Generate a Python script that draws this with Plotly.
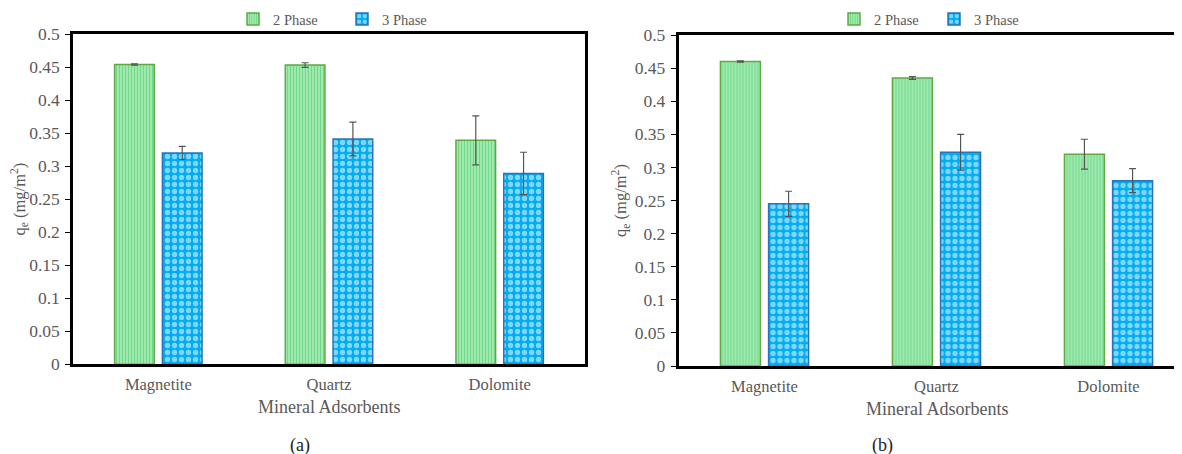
import plotly.graph_objects as go

categories = ["Magnetite", "Quartz", "Dolomite"]
series_names = ["2 Phase", "3 Phase"]

a_two_phase = [0.454, 0.453, 0.339]
a_two_phase_err = [0.001, 0.0035, 0.037]
a_three_phase = [0.320, 0.341, 0.289]
a_three_phase_err = [0.010, 0.0255, 0.032]

b_two_phase = [0.460, 0.435, 0.320]
b_two_phase_err = [0.001, 0.002, 0.0225]
b_three_phase = [0.245, 0.323, 0.280]
b_three_phase_err = [0.019, 0.027, 0.018]

y_tick_step = 0.05
y_max = 0.5

# the page body has an 8px margin, so the figure is drawn 8px in from the window edge
OFF = 8
W, H = 1182 - OFF, 454 - OFF
TXT = "#595959"
FONT = "Liberation Serif, Times New Roman, serif"

green_style = dict(color="#b4efc0", line=dict(color="#62a845", width=1.5),
                   pattern=dict(shape="|", fgcolor="#2ec451", size=3, solidity=0.55))
blue_style = dict(color="#00acf2", line=dict(color="#2a72b8", width=1.5),
                  pattern=dict(shape=".", fgcolor="#ffffff", size=7, solidity=0.45))
err_style = dict(type="data", color="#555555", thickness=1.2, width=3.5)

fig = go.Figure()

def add_pair(two, two_err, three, three_err, xa, ya, legend):
    fig.add_trace(go.Bar(x=categories, y=two, name=series_names[0], marker=green_style,
                         error_y=dict(array=two_err, **err_style),
                         xaxis=xa, yaxis=ya, legend=legend))
    fig.add_trace(go.Bar(x=categories, y=three, name=series_names[1], marker=blue_style,
                         error_y=dict(array=three_err, **err_style),
                         xaxis=xa, yaxis=ya, legend=legend))

add_pair(a_two_phase, a_two_phase_err, a_three_phase, a_three_phase_err, "x", "y", "legend")
add_pair(b_two_phase, b_two_phase_err, b_three_phase, b_three_phase_err, "x2", "y2", "legend2")

def px_x(p):
    return (p - OFF) / W

def px_y(p):
    return 1 - (p - OFF) / H

ytickfont = dict(family=FONT, size=17.5, color=TXT)
xtickfont = dict(family=FONT, size=16.5, color=TXT)
ytitle = dict(text="q<sub>e</sub> (mg/m<sup>2</sup>)", font=dict(family=FONT, size=16.5, color=TXT), standoff=4)

xcommon = dict(type="category", showline=True, linecolor="black", linewidth=2.5, ticks="",
               tickfont=xtickfont, showgrid=False, ticklabelstandoff=3)
ycommon = dict(range=[0, y_max], dtick=y_tick_step, tick0=0, showline=True, linecolor="black",
               linewidth=2.5, ticks="outside", ticklen=5, tickcolor="black", tickwidth=1,
               tickfont=ytickfont, showgrid=False, zeroline=False, title=ytitle,
               ticklabelstandoff=2)

a_left, a_right, a_top, a_bot = 73, 585, 34, 364.3
b_left, b_top, b_bot = 678.5, 35, 366
cat_px_b = 172
b_span = (1182 - b_left) / cat_px_b

legfont = dict(family=FONT, size=14.5, color=TXT)

fig.update_layout(
    width=W, height=H,
    margin=dict(l=0, r=0, t=0, b=0, autoexpand=False),
    paper_bgcolor="white", plot_bgcolor="white",
    barmode="group", bargap=0.44, bargroupgap=0.17,
    font=dict(family=FONT, color=TXT),
    xaxis=dict(domain=[px_x(a_left), px_x(a_right)], anchor="y", mirror=True, **xcommon),
    yaxis=dict(domain=[px_y(a_bot), px_y(a_top)], anchor="x", mirror=True, **ycommon),
    xaxis2=dict(domain=[px_x(b_left), 1.0], anchor="y2", mirror=True,
                range=[-0.5, -0.5 + b_span], **xcommon),
    yaxis2=dict(domain=[px_y(b_bot), px_y(b_top)], anchor="x2", mirror=False, **ycommon),
    legend=dict(orientation="h", x=px_x(233), xanchor="left", y=px_y(19), yanchor="middle",
                font=legfont, entrywidth=64, itemwidth=30, bgcolor="rgba(0,0,0,0)"),
    legend2=dict(orientation="h", x=px_x(834), xanchor="left", y=px_y(19), yanchor="middle",
                 font=legfont, entrywidth=55, itemwidth=30, bgcolor="rgba(0,0,0,0)"),
    annotations=[
        dict(text="Mineral Adsorbents", xref="x", x=1, yref="paper", y=px_y(407),
             yanchor="middle", showarrow=False, font=dict(family=FONT, size=18, color=TXT)),
        dict(text="Mineral Adsorbents", xref="x2", x=1, yref="paper", y=px_y(409),
             yanchor="middle", showarrow=False, font=dict(family=FONT, size=18, color=TXT)),
        dict(text="(a)", xref="paper", x=px_x(288), yref="paper", y=px_y(445),
             yanchor="middle", showarrow=False, font=dict(family=FONT, size=18, color="#222222")),
        dict(text="(b)", xref="paper", x=px_x(895), yref="paper", y=px_y(445),
             yanchor="middle", showarrow=False, font=dict(family=FONT, size=18, color="#222222")),
    ],
)

fig.write_html("out.html")
